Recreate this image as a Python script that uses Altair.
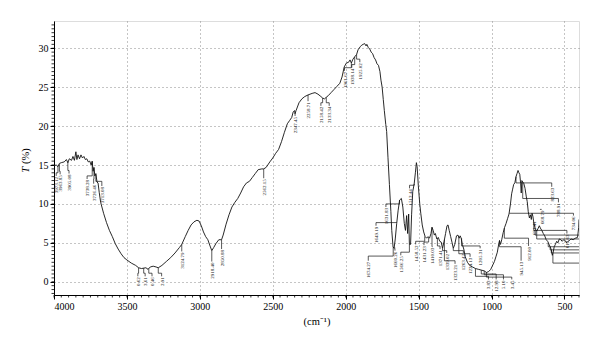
import altair as alt
import pandas as pd

# ---------------- spectrum (wavenumber cm-1, transmittance %) ----------------
wn = [4000, 3985, 3973, 3963, 3950, 3930, 3915, 3905, 3895, 3880, 3870, 3860, 3850, 3843,
      3835, 3825, 3815, 3805, 3795, 3785, 3775, 3765, 3755, 3745, 3738, 3732, 3726, 3720,
      3713, 3705, 3698, 3690, 3680, 3660, 3640, 3620, 3600, 3580, 3560, 3540, 3520, 3500,
      3470, 3440, 3420, 3400, 3370, 3355, 3340, 3320, 3300, 3285, 3260, 3230, 3200, 3170,
      3140, 3124, 3100, 3080, 3060, 3040, 3020, 3005, 2990, 2975, 2960, 2945, 2930, 2918,
      2905, 2890, 2870, 2851, 2840, 2820, 2800, 2780, 2760, 2740, 2720, 2700, 2680, 2660,
      2640, 2620, 2600, 2575, 2562, 2545, 2520, 2500, 2480, 2460, 2440, 2420, 2400, 2385,
      2370, 2360, 2350, 2347, 2340, 2320, 2300, 2280, 2258, 2230, 2210, 2190, 2170, 2158,
      2145, 2133, 2120, 2100, 2080, 2060, 2040, 2025, 2010, 1995, 1980, 1970, 1961, 1950,
      1938, 1925, 1915, 1900, 1890, 1880, 1870, 1860, 1855, 1845, 1835, 1825, 1815, 1805,
      1795, 1785, 1775, 1765, 1758, 1750, 1742, 1735, 1725, 1719, 1710, 1700, 1690, 1684,
      1675, 1668, 1660, 1650, 1640, 1630, 1618, 1608, 1598, 1590, 1582, 1575, 1568, 1563,
      1555, 1548, 1540, 1530, 1522, 1515, 1510, 1502, 1492, 1485, 1475, 1465, 1455, 1445,
      1435, 1425, 1415, 1408, 1400, 1392, 1385, 1375, 1365, 1355, 1345, 1336, 1325, 1315,
      1305, 1298, 1290, 1280, 1270, 1262, 1252, 1240, 1230, 1222, 1215, 1208, 1200, 1190,
      1180, 1165, 1150, 1130, 1110, 1090, 1070, 1050, 1035, 1020, 1005, 995, 980, 970,
      960, 950, 945, 938, 930, 920, 910, 900, 890, 880, 870, 862, 855, 848,
      840, 832, 825, 818, 812, 806, 800, 796, 792, 785, 778, 770, 762, 755,
      748, 740, 733, 727, 722, 716, 710, 700, 690, 682, 672, 665, 655, 645,
      635, 625, 615, 605, 598, 590, 583, 578, 570, 562, 553, 545, 535, 525,
      515, 505, 495, 485, 475, 465, 455, 440, 425, 410, 402, 400]
T = [14.9, 15.0, 14.8, 15.2, 15.3, 15.4, 15.7, 15.3, 15.8, 15.6, 16.1, 15.6, 16.7, 15.7,
     16.3, 15.8, 16.3, 15.9, 16.1, 15.7, 15.8, 15.4, 15.5, 15.0, 15.5, 14.2, 14.7, 13.6,
     13.9, 12.8, 12.7, 11.5, 10.2, 8.8, 7.6, 6.6, 5.8, 4.9, 4.2, 3.6, 3.1, 2.8,
     2.4, 2.1, 1.8, 1.7, 1.8, 1.6, 1.9, 2.0, 1.9, 1.8, 2.1, 2.6, 3.1, 3.7,
     4.4, 4.8, 5.8, 6.6, 7.3, 7.7, 7.9, 7.8, 7.2, 6.4, 5.8, 5.4, 4.6, 4.0,
     4.4, 4.9, 5.4, 5.4, 6.0, 7.4, 8.6, 9.6, 10.2, 10.7, 11.4, 12.2, 12.7, 12.9,
     13.4, 13.9, 14.4, 14.5, 14.5, 14.7, 15.4, 15.9, 16.5, 17.0, 18.0, 19.2, 20.3, 20.7,
     21.1, 21.8, 22.0, 21.6, 22.0, 23.0, 23.5, 23.8, 24.0, 24.2, 24.3, 24.1, 23.8, 23.6,
     23.5, 23.7, 23.9, 24.3, 24.7, 25.1, 25.5, 26.3, 27.6, 28.1, 28.2, 28.5, 28.1, 28.6,
     28.9, 29.2, 29.8, 30.2, 30.4, 30.5, 30.6, 30.3, 30.5, 30.1, 29.9, 29.5, 29.3, 28.8,
     28.5, 28.0, 27.8, 27.0, 25.9, 25.0, 23.4, 22.0, 20.2, 19.3, 16.0, 12.5, 9.0, 6.6,
     4.5, 4.3, 5.5, 7.5, 9.2, 10.5, 10.7, 9.6, 7.5, 6.6, 8.5, 6.2, 8.7, 4.8,
     4.8, 8.6, 11.6, 12.6, 14.0, 15.3, 14.8, 12.4, 10.0, 8.8, 7.3, 6.4, 5.8, 5.6,
     5.8, 5.6, 6.2, 7.0, 6.6, 6.0, 6.2, 5.5, 5.7, 5.2, 5.1, 4.3, 5.2, 6.2,
     7.2, 7.3, 6.6, 5.8, 5.0, 4.3, 4.8, 5.9, 6.0, 5.6, 5.9, 5.6, 4.8, 4.2,
     3.2, 2.5, 2.1, 1.9, 1.7, 1.6, 1.5, 1.4, 1.2, 1.3, 1.6, 2.0, 2.6, 3.2,
     3.8, 4.9, 5.3, 4.8, 5.4, 6.3, 7.0, 7.5, 8.1, 8.7, 10.0, 11.3, 11.9, 12.5,
     12.7, 13.5, 13.9, 14.3, 14.0, 13.8, 12.6, 11.4, 13.0, 12.8, 12.6, 12.0, 11.0, 10.3,
     9.0, 8.2, 8.6, 8.0, 8.8, 8.4, 7.6, 6.8, 6.5, 6.8, 7.2, 6.9, 6.6, 6.2,
     5.9, 5.4, 5.2, 4.8, 4.5, 4.1, 3.4, 3.7, 4.5, 4.8, 5.2, 5.0, 5.5, 5.4,
     5.2, 5.4, 5.3, 5.0, 5.2, 5.3, 5.5, 5.4, 5.6, 5.7, 7.0, 8.0]

# ---------------- peak annotations ----------------
# text, anchor wavenumber, anchor T, elbow T, label wavenumber, label top T
ann_text = ["3973.12", "3963.85", "3905.08", "3738.28", "3726.46", "3713.08",
            "0.62", "3.61", "0.46", "2.91", "3124.79", "2918.40", "2850.88",
            "2562.15", "2347.45", "2258.71", "2158.42", "2133.34",
            "1961.67", "1938.14", "1925.02",
            "1674.27", "1649.19", "1631.83", "1660.26", "1566.25", "1513.44",
            "1458.52", "1431.23", "1410.03", "1371.41", "1339.02", "1323.21",
            "1263.42", "1224.13", "1205.31", "3.83", "12.98", "5.10", "3.45",
            "945.13", "912.00", "823.63", "788.91", "668.79", "691.41",
            "734.06", "617.63", "", "", "", "", "", ""]
ann_ax = [3973, 3963, 3905, 3738, 3726, 3713,
          3420, 3385, 3350, 3285, 3124, 2918, 2851,
          2562, 2347, 2258, 2158, 2133,
          1961, 1938, 1925,
          1674, 1649, 1631, 1663, 1563, 1530,
          1458, 1431, 1408, 1371, 1336, 1323,
          1262, 1224, 1205, 1110, 1070, 1050, 1035,
          945, 912, 832, 786, 668, 712,
          877, 710, 701, 690, 611, 598, 590, 579]
ann_ay = [14.9, 15.1, 15.4, 15.4, 14.6, 13.8,
          1.8, 1.75, 1.7, 1.8, 4.8, 4.0, 5.4,
          14.5, 21.7, 24.0, 23.6, 23.7,
          28.1, 28.9, 29.2,
          4.5, 7.6, 10.5, 4.4, 4.8, 12.6,
          5.8, 5.7, 7.0, 5.6, 4.3, 5.4,
          4.3, 5.7, 5.6, 1.7, 1.5, 1.4, 1.25,
          5.3, 6.9, 13.5, 12.8, 9.3, 7.9,
          8.8, 7.6, 6.6, 6.5, 5.0, 4.5, 4.1, 3.6]
ann_ey = [14.0, 14.2, 14.3, 13.6, 13.2, 12.9,
          1.1, 1.1, 1.1, 1.1, 3.9, 2.6, 4.2,
          13.3, 21.3, 23.2, 23.0, 23.0,
          27.5, 27.9, 28.6,
          3.3, 7.6, 10.0, 4.2, 3.8, 12.4,
          5.2, 5.1, 4.5, 4.6, 4.0, 2.7,
          4.0, 3.6, 4.6, 0.7, 1.0, 0.9, 0.6,
          4.5, 5.6, 12.7, 10.7, 9.3, 7.9,
          8.8, 6.6, 6.0, 5.5, 4.5, 4.1, 3.7, 2.4]
ann_lx = [3985, 3958, 3897, 3773, 3728, 3672,
          3425, 3375, 3328, 3262, 3124, 2918, 2851,
          2562, 2347, 2258, 2170, 2113,
          2008, 1958, 1903,
          1845, 1792, 1724, 1662, 1622, 1562,
          1520, 1463, 1405, 1353, 1307, 1250,
          1193, 1147, 1078, 1021, 968, 918, 861,
          797, 746, 587, 541, 656, 712,
          438, 483, 400, 400, 400, 400, 400, 400]
ann_ty = [13.6, 13.8, 13.9, 13.2, 12.6, 12.3,
          0.7, 0.7, 0.7, 0.7, 3.9, 2.6, 4.2,
          13.3, 21.3, 23.2, 22.6, 22.6,
          27.1, 27.5, 28.2,
          2.7, 7.2, 9.6, 4.0, 3.4, 12.0,
          4.8, 4.7, 4.5, 4.2, 3.7, 2.3,
          3.7, 3.2, 4.3, 0.3, 0.3, 0.3, 0.3,
          2.7, 4.6, 12.2, 10.2, 9.3, 7.9,
          8.5, 6.2, 6.0, 5.5, 4.5, 4.1, 3.7, 2.4]

x_major = [4000, 3750, 3500, 3250, 3000, 2750, 2500, 2250, 2000, 1750, 1500, 1250, 1000, 750, 500]
y_major = [0, 5, 10, 15, 20, 25, 30]
x_minor = list(range(4000, 399, -50))
y_minor = [v / 2 for v in range(-3, 67)]

X_DOM = [400, 4000]
Y_DOM = [-1.7, 33.5]
W, H = 525, 274
FONT = "Liberation Serif"

spec = pd.DataFrame({"wn": wn, "T": T, "idx": range(len(wn))})

seg_rows = []
for t, ax, ay, ey, lx, ty in zip(ann_text, ann_ax, ann_ay, ann_ey, ann_lx, ann_ty):
    seg_rows.append({"x": ax, "y": ay, "x2": ax, "y2": ey})
    seg_rows.append({"x": ax, "y": ey, "x2": lx, "y2": ey})
    seg_rows.append({"x": lx, "y": ey, "x2": lx, "y2": ty})
segs = pd.DataFrame(seg_rows)
labels = pd.DataFrame({"text": ann_text, "x": ann_lx, "y": ann_ty})
labels = labels[labels["text"] != ""]

xs = alt.Scale(domain=X_DOM, reverse=True, nice=False, zero=False)
ys = alt.Scale(domain=Y_DOM, nice=False, zero=False)

x_axis = alt.Axis(values=x_major, format="d", title="(cm\u207b\u00b9)", grid=True,
                  gridColor="#8a8a8a", gridDash=[1, 3], gridWidth=1, tickSize=4,
                  tickColor="#000", domainColor="#000", labelFont=FONT, labelFontSize=10,
                  labelColor="#000", titleFont=FONT, titleFontSize=10.5,
                  titleFontWeight="normal", titleColor="#000", titlePadding=5, labelPadding=2)
y_axis = alt.Axis(values=y_major, format="d", title="", grid=True, gridColor="#8a8a8a",
                  gridDash=[1, 3], gridWidth=1, tickSize=4, tickColor="#000",
                  domainColor="#000", labelFont=FONT, labelFontSize=10, labelColor="#000",
                  labelPadding=2)

line = alt.Chart(spec).mark_line(color="#111", strokeWidth=0.9, clip=True).encode(
    x=alt.X("wn:Q", scale=xs, axis=x_axis),
    y=alt.Y("T:Q", scale=ys, axis=y_axis),
    order=alt.Order("idx:Q"),
)

# minor ticks drawn as short rules just outside the frame
xmin_df = pd.DataFrame({"v": x_minor})
ymin_df = pd.DataFrame({"v": y_minor})
xminor = alt.Chart(xmin_df).mark_rule(color="#000", strokeWidth=0.8).encode(
    x=alt.X("v:Q", scale=xs), y=alt.value(H), y2=alt.value(H + 2.5))
yminor = alt.Chart(ymin_df).mark_rule(color="#000", strokeWidth=0.8).encode(
    y=alt.Y("v:Q", scale=ys), x=alt.value(0), x2=alt.value(-2.5))

leaders = alt.Chart(segs).mark_rule(color="#111", strokeWidth=0.7, clip=True).encode(
    x=alt.X("x:Q", scale=xs), x2="x2:Q",
    y=alt.Y("y:Q", scale=ys), y2="y2:Q",
)

texts = alt.Chart(labels).mark_text(font=FONT, fontSize=5, angle=270, align="right",
                                    baseline="middle", color="#111", dx=-1).encode(
    x=alt.X("x:Q", scale=xs), y=alt.Y("y:Q", scale=ys), text="text:N",
)

title_df = pd.DataFrame({"a": [0]})
t_it = alt.Chart(title_df).mark_text(font=FONT, fontSize=10.5, fontStyle="italic", angle=270,
                                     align="right", baseline="middle", color="#000").encode(
    x=alt.value(-28), y=alt.value(H / 2 + 9), text=alt.value("T"))
t_rest = alt.Chart(title_df).mark_text(font=FONT, fontSize=10.5, angle=270, align="left",
                                       baseline="middle", color="#000").encode(
    x=alt.value(-28), y=alt.value(H / 2 + 6), text=alt.value("(%)"))

chart = alt.layer(line, xminor, yminor, leaders, texts, t_it, t_rest).properties(
    width=W, height=H,
    autosize=alt.AutoSizeParams(type="none"),
    padding={"left": 46, "top": 13, "right": 10, "bottom": 40},
).configure_view(stroke="#000", strokeWidth=1.2).configure(background="white")

chart.save("out.html", embed_options={"renderer": "svg", "actions": False})
